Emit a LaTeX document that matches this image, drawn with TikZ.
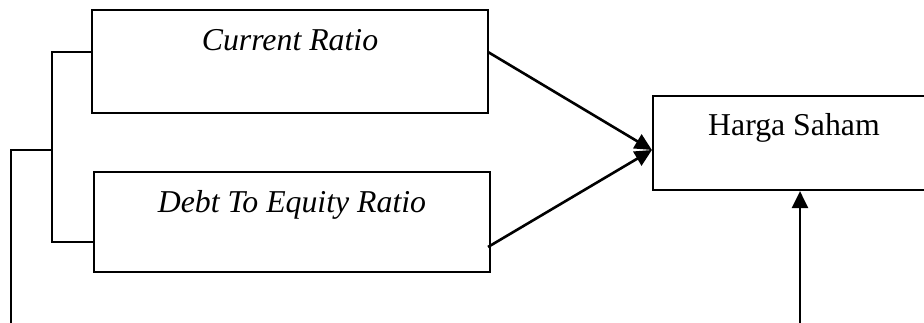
\documentclass[tikz,border=0pt]{standalone}
\usepackage{fontspec}
\setmainfont{Liberation Serif}
\usetikzlibrary{arrows.meta}
\begin{document}
\begin{tikzpicture}[x=1pt,y=-1pt,
  box/.style={draw,line width=2.2pt,inner sep=0pt},
  lbl/.style={anchor=base,inner sep=0pt,font=\fontsize{31.8}{38}\selectfont},
  conn/.style={line width=1.8pt},
  arr/.style={line width=2.6pt,-{Triangle[length=17pt,width=16pt]}}]
\useasboundingbox (0,0) rectangle (924,323);
% boxes
\node[box,minimum width=396pt,minimum height=103pt] (b1) at (290,61.5) {};
\node[box,minimum width=396pt,minimum height=100pt] (b2) at (292,222) {};
\node[box,minimum width=282pt,minimum height=94pt] (b3) at (794,143) {};
% texts
\node[lbl] (t1) at (290,51) {\itshape Current Ratio};
\node[lbl] (t2) at (292,213) {\itshape Debt To Equity Ratio};
\node[lbl] (t3) at (794,136) {Harga Saham};
% bracket
\coordinate (k1) at (52,52);
\coordinate (k2) at (52,242);
\coordinate (k3) at (11,150);
\coordinate (k4) at (11,330);
\coordinate (km) at (52,150);
\draw[conn] (b1.west |- k1) -- (k1) -- (k2) -- (b2.west |- k2);
\draw[conn] (km) -- (k3) -- (k4);
% arrows
\coordinate (a1) at (488,52);
\coordinate (a2) at (488,247);
\coordinate (tip) at (653,150);
\coordinate (a3) at (800,330);
\draw[arr] (a1) -- (b3.west |- tip);
\draw[arr] (a2) -- (b3.west |- tip);
\draw[arr] (a3) -- (a3 |- b3.south);
\end{tikzpicture}
\end{document}
